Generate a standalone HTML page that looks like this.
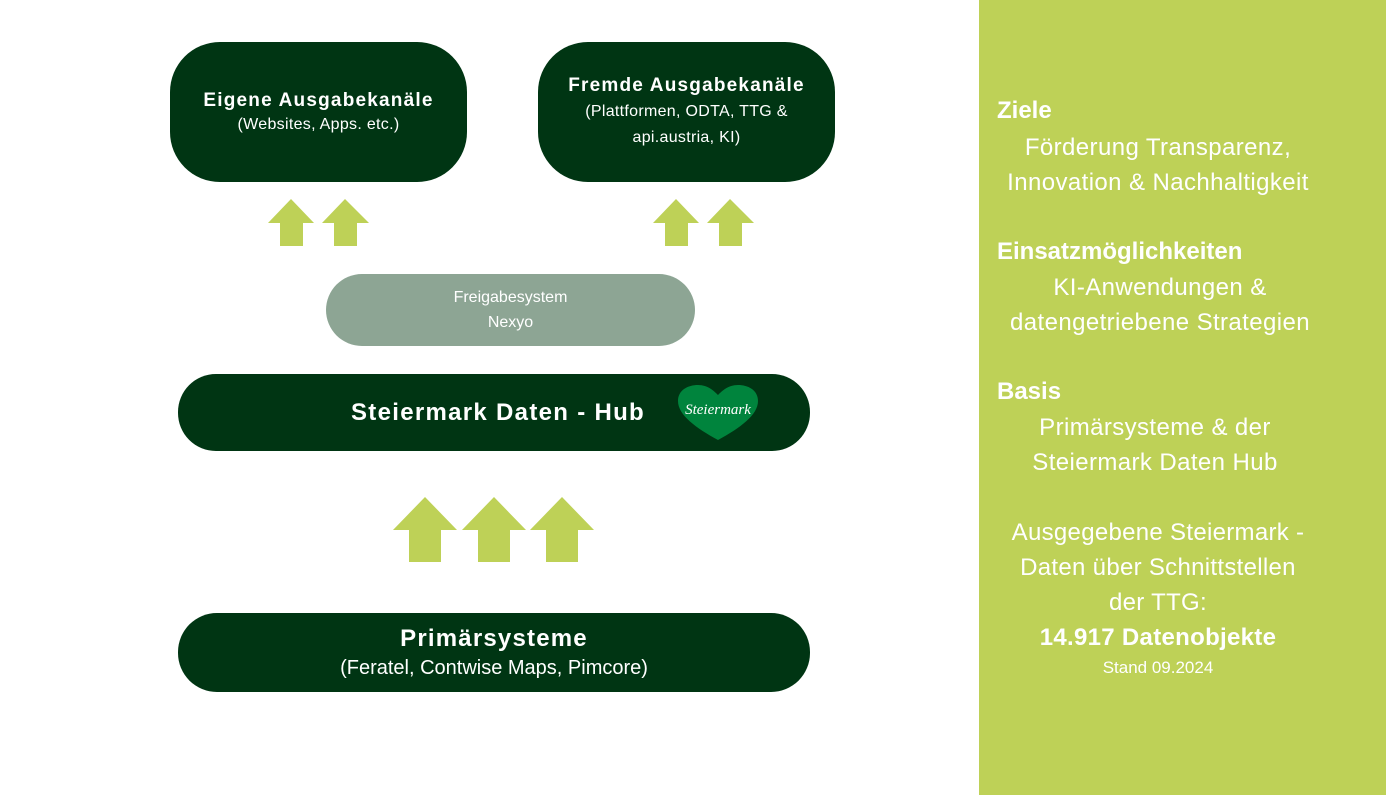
<!DOCTYPE html>
<html><head><meta charset="utf-8"><style>
html,body{margin:0;padding:0;background:#fff;}
body{width:1393px;height:795px;position:relative;overflow:hidden;font-family:"Liberation Sans",sans-serif;}
.box{position:absolute;background:#003513;color:#fff;text-align:center;box-sizing:border-box;display:flex;flex-direction:column;justify-content:center;align-items:center;}
.side{position:absolute;left:979px;top:0;width:407px;height:795px;background:#bed157;color:#fff;font-size:24px;}
.side div{position:absolute;}
</style></head><body>
<div class="box" style="left:170px;top:42px;width:297px;height:140px;border-radius:50px;">
 <div style="font-weight:bold;font-size:19px;line-height:26px;letter-spacing:1.2px">Eigene Ausgabekanäle</div>
 <div style="font-size:16px;line-height:22px;letter-spacing:0.3px">(Websites, Apps. etc.)</div></div>
<div class="box" style="left:538px;top:42px;width:297px;height:140px;border-radius:50px;">
 <div style="font-weight:bold;font-size:19px;line-height:26px;letter-spacing:1.2px">Fremde Ausgabekanäle</div>
 <div style="font-size:16px;line-height:26px;letter-spacing:0.3px">(Plattformen, ODTA, TTG &amp;<br>api.austria, KI)</div></div>
<div class="box" style="left:326px;top:274px;width:369px;height:72px;border-radius:36px;background:#8da594;font-size:16px;line-height:25px;">Freigabesystem<br>Nexyo</div>
<div class="box" style="left:178px;top:374px;width:632px;height:77px;border-radius:38px;"></div>
<div style="position:absolute;left:178px;top:374px;width:632px;height:77px;line-height:77px;color:#fff;font-weight:bold;font-size:24px;letter-spacing:1.3px"><span style="position:absolute;left:173px;">Steiermark Daten - Hub</span></div>
<svg style="position:absolute;left:676px;top:383px" width="84" height="60" viewBox="0 0 84 60">
<path d="M42 57 C20 45 2 32 2 18 C2 7 12 2 22 2 C32 2 38 8 42 12 C46 8 52 2 62 2 C72 2 82 7 82 18 C82 32 64 45 42 57Z" fill="#00843d"/>
<text x="42" y="31" fill="#fff" font-family="Liberation Serif, serif" font-style="italic" font-size="15" text-anchor="middle">Steiermark</text></svg>
<div class="box" style="left:178px;top:613px;width:632px;height:79px;border-radius:39px;">
 <div style="font-weight:bold;font-size:24px;line-height:30px;letter-spacing:1.2px">Primärsysteme</div>
 <div style="font-size:20px;line-height:28px">(Feratel, Contwise Maps, Pimcore)</div></div>
<svg style="position:absolute;left:0;top:0" width="979" height="795">
<g fill="#bed157">
<polygon points="291,199 314,223 303,223 303,246 280,246 280,223 268,223" />
<polygon points="345,199 369,223 357,223 357,246 334,246 334,223 322,223" />
<polygon points="676,199 699,223 688,223 688,246 665,246 665,223 653,223" />
<polygon points="730,199 754,223 742,223 742,246 719,246 719,223 707,223" />
<polygon points="425,497 457,530 441,530 441,562 409,562 409,530 393,530" />
<polygon points="494,497 526,530 510,530 510,562 478,562 478,530 462,530" />
<polygon points="562,497 594,530 578,530 578,562 546,562 546,530 530,530" />
</g></svg>
<div class="side">
<div style="left:18px;top:97px;font-weight:bold;">Ziele</div>
<div style="left:0;width:358px;top:130px;text-align:center;line-height:35px;letter-spacing:0.4px">Förderung Transparenz,<br>Innovation &amp; Nachhaltigkeit</div>
<div style="left:18px;top:238px;font-weight:bold;">Einsatzmöglichkeiten</div>
<div style="left:0;width:362px;top:270px;text-align:center;line-height:35px;letter-spacing:0.4px">KI-Anwendungen &amp;<br>datengetriebene Strategien</div>
<div style="left:18px;top:378px;font-weight:bold;">Basis</div>
<div style="left:0;width:352px;top:410px;text-align:center;line-height:35px;letter-spacing:0.4px">Primärsysteme &amp; der<br>Steiermark Daten Hub</div>
<div style="left:0;width:358px;top:515px;text-align:center;line-height:35px;letter-spacing:0.3px">Ausgegebene Steiermark -<br>Daten über Schnittstellen<br>der TTG:<br><b>14.917 Datenobjekte</b></div>
<div style="left:0;width:358px;top:658px;text-align:center;font-size:17px;">Stand 09.2024</div>
</div>
</body></html>
